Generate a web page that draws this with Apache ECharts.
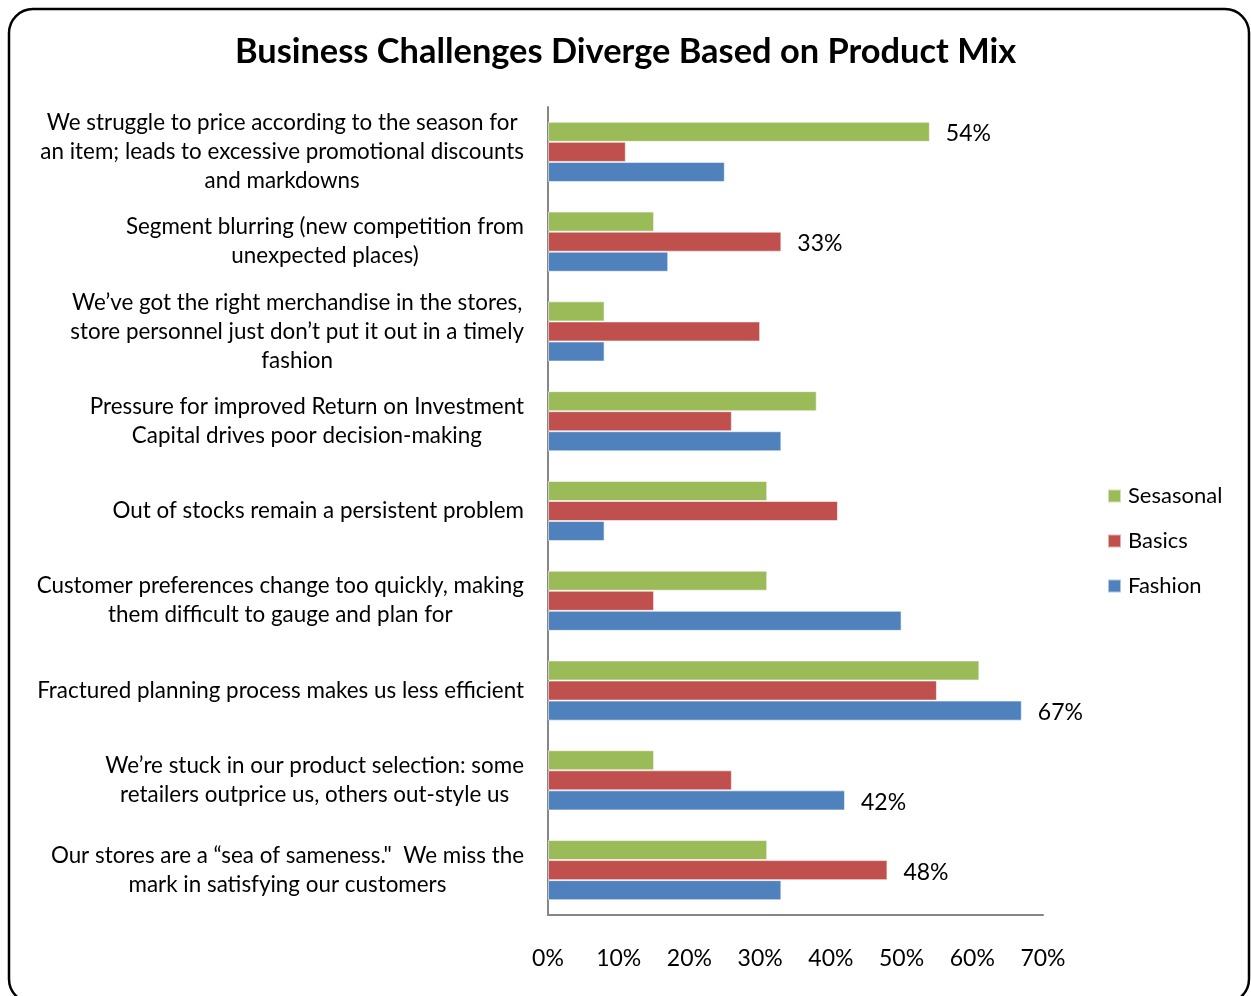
<!DOCTYPE html>
<html>
<head>
<meta charset="utf-8">
<title>Business Challenges Diverge Based on Product Mix</title>
<script src="https://cdn.jsdelivr.net/npm/echarts@6/dist/echarts.min.js"></script>
<style>
  html, body { margin: 0; padding: 0; background: #fff; }
  #chart { width: 1251px; height: 996px; }
</style>
</head>
<body>
<div id="chart"></div>
<script>
// Survey statements (top to bottom), with the line breaks used on the axis
const categories = [
  'We struggle to price according to the season for\nan item; leads to excessive promotional discounts\nand markdowns',
  'Segment blurring (new competition from\nunexpected places)',
  'We\u2019ve got the right merchandise in the stores,\nstore personnel just don\u2019t put it out in a timely\nfashion',
  'Pressure for improved Return on Investment\nCapital drives poor decision-making',
  'Out of stocks remain a persistent problem',
  'Customer preferences change too quickly, making\nthem difficult to gauge and plan for',
  'Fractured planning process makes us less efficient',
  'We\u2019re stuck in our product selection: some\nretailers outprice us, others out-style us',
  'Our stores are a \u201csea of sameness."  We miss the\nmark in satisfying our customers'
];

const seriesNames = ['Sesasonal', 'Basics', 'Fashion'];

// Share of respondents (%) per product mix
const seasonal = [54, 15, 8, 38, 31, 31, 61, 15, 31];
const basics   = [11, 33, 30, 26, 41, 15, 55, 26, 48];
const fashion  = [25, 17, 8, 33, 8, 50, 67, 42, 33];

// Bars that carry a value label: [series index, category index]
const labelled = [[0, 0], [1, 1], [2, 6], [2, 7], [1, 8]];

const xTicks = { min: 0, max: 70, interval: 10 };

const colors = ['#9BBB59', '#C0504D', '#4F81BD'];
const FONT = 'Lato, "Open Sans", sans-serif';

function withLabels(values, sIdx) {
  return values.map(function (v, cIdx) {
    const show = labelled.some(function (p) { return p[0] === sIdx && p[1] === cIdx; });
    return show ? { value: v, label: { show: true } } : v;
  });
}

const chart = echarts.init(document.getElementById('chart'), null, { renderer: 'canvas' });

chart.setOption({
  animation: false,
  backgroundColor: '#fff',
  title: {
    text: 'Business Challenges Diverge Based on Product Mix',
    left: 'center',
    top: 30,
    textStyle: { fontFamily: FONT, fontWeight: 'bold', fontSize: 34.4, color: '#000' }
  },
  legend: {
    orient: 'vertical',
    left: 1107,
    top: 485,
    padding: 0,
    itemWidth: 13,
    itemHeight: 13,
    itemGap: 23,
    icon: 'rect',
    data: seriesNames,
    textStyle: { fontFamily: FONT, fontSize: 22, lineHeight: 22, color: '#000', padding: [0, 0, 0, 2] }
  },
  grid: { left: 548, right: 208, top: 107, bottom: 81, containLabel: false },
  xAxis: {
    type: 'value',
    min: xTicks.min,
    max: xTicks.max,
    interval: xTicks.interval,
    axisLine: { show: true, lineStyle: { color: '#868686', width: 2 } },
    axisTick: { show: false },
    splitLine: { show: false },
    axisLabel: {
      formatter: '{value}%',
      margin: 32,
      fontFamily: FONT,
      fontSize: 23,
      color: '#000'
    }
  },
  yAxis: {
    type: 'category',
    inverse: true,
    data: categories,
    axisLine: { show: true, lineStyle: { color: '#868686', width: 2 } },
    axisTick: { show: false },
    axisLabel: {
      margin: 24,
      align: 'right',
      lineHeight: 29,
      formatter: function (v) {
        return v.split('\n').map(function (l) { return '{c|' + l + '}'; }).join('\n');
      },
      rich: {
        c: { align: 'center', fontFamily: FONT, fontSize: 22.4, lineHeight: 29, color: '#000' }
      }
    }
  },
  series: [seasonal, basics, fashion].map(function (vals, i) {
    return {
      name: seriesNames[i],
      type: 'bar',
      barGap: '0%',
      barCategoryGap: '33%',
      data: withLabels(vals, i),
      itemStyle: { color: colors[i], borderColor: 'rgba(255,255,255,0.55)', borderWidth: 1 },
      label: {
        show: false,
        position: 'right',
        distance: 16,
        offset: [0, 2],
        formatter: '{c}%',
        fontFamily: FONT,
        fontSize: 23,
        color: '#000'
      }
    };
  }),
  graphic: [{
    type: 'rect',
    silent: true,
    z: 100,
    shape: { x: 9, y: 9, width: 1240, height: 994, r: 24 },
    style: { fill: 'none', stroke: '#000', lineWidth: 2.5 }
  }]
});
</script>
</body>
</html>
